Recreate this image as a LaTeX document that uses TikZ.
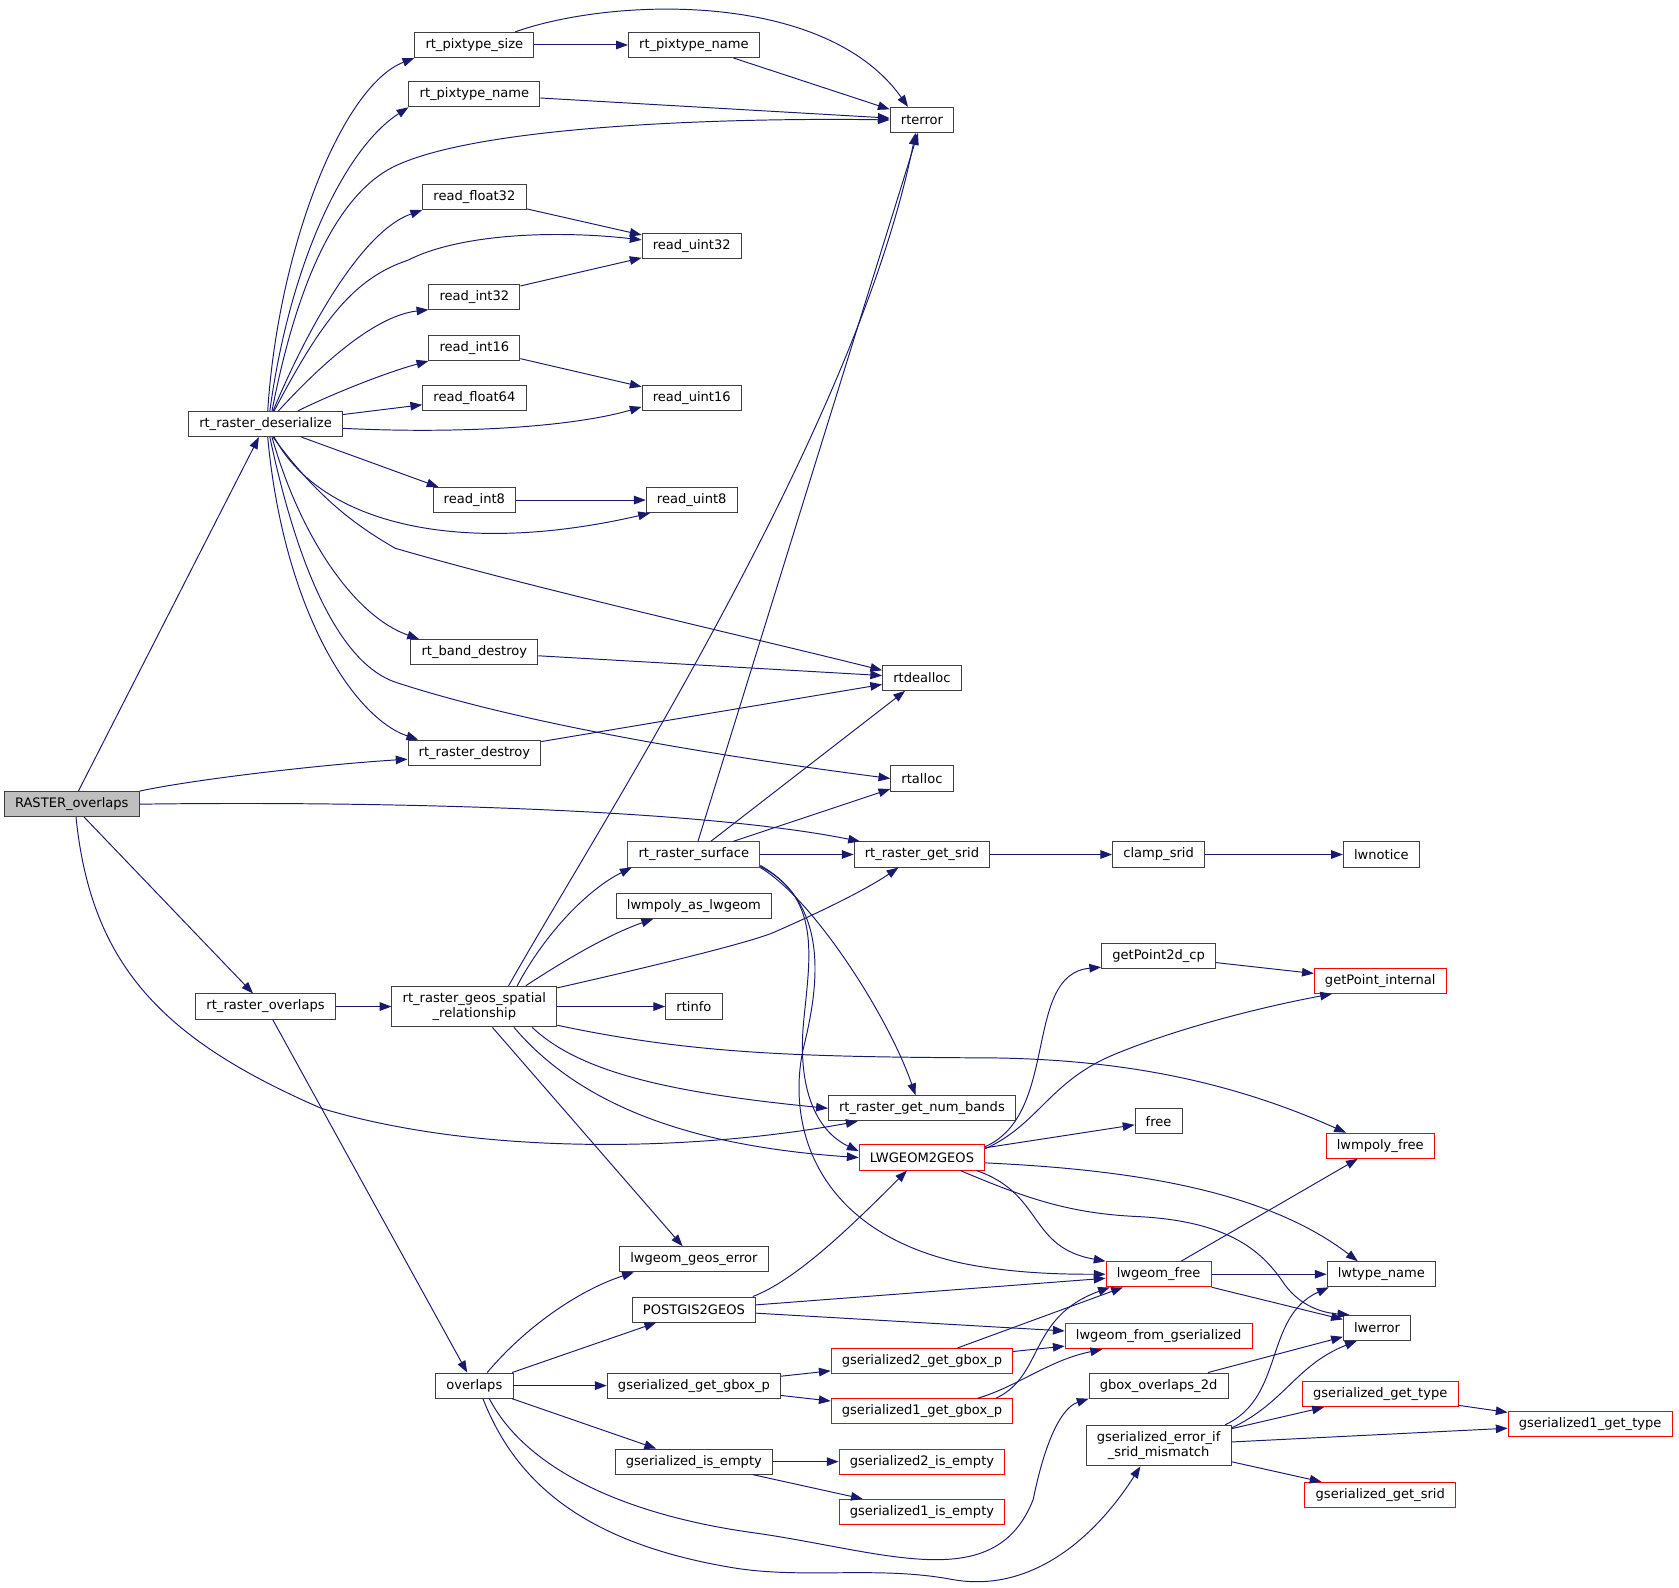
\documentclass[tikz,border=0pt]{standalone}
\usepackage{fontspec}
\setmainfont{DejaVu Sans}
\usepackage{tikz}
\usetikzlibrary{arrows.meta}
\definecolor{midblue}{HTML}{191970}
\definecolor{boxline}{HTML}{404040}

\begin{document}
\begin{tikzpicture}[x=1pt,y=-1pt,
main/.style = {draw=boxline, fill=white, line width=0.9pt, inner xsep=10pt, inner ysep=0pt, minimum height=23.5pt, font=\fontsize{12.2}{14.6}\selectfont},
hot/.style = {main, draw=red},
tall/.style = {main, align=center, minimum height=38pt},
link/.style = {draw=midblue, line width=0.9pt, -{Triangle[length=11pt,width=8pt]}}]
\useasboundingbox (0,0) rectangle (1568,1483);
\fill[white] (0,0) rectangle (1568,1483);
\node[main] (1) at (67,751) [fill=black!25] {RASTER\_overlaps};
\node[main] (2) at (248,396) {rt\_raster\_deserialize};
\node[main] (3) at (443,42) {rt\_pixtype\_size};
\node[main] (4) at (443,88) {rt\_pixtype\_name};
\node[main] (5) at (648,42) {rt\_pixtype\_name};
\node[main] (6) at (861,112) {rterror};
\node[main] (7) at (443,184) {read\_float32};
\node[main] (8) at (646,230) {read\_uint32};
\node[main] (9) at (443,277) {read\_int32};
\node[main] (10) at (443,325) {read\_int16};
\node[main] (11) at (443,372) {read\_float64};
\node[main] (12) at (646,372) {read\_uint16};
\node[main] (13) at (443,467) {read\_int8};
\node[main] (14) at (646,467) {read\_uint8};
\node[main] (15) at (443,609) {rt\_band\_destroy};
\node[main] (16) at (861,633) {rtdealloc};
\node[main] (17) at (443,703) {rt\_raster\_destroy};
\node[main] (18) at (861,727) {rtalloc};
\node[hot] (19) at (648,798) {rt\_raster\_surface};
\node[main] (20) at (861,798) {rt\_raster\_get\_srid};
\node[main] (21) at (1082,798) {clamp\_srid};
\node[main] (22) at (1290,798) {lwnotice};
\node[main] (23) at (648,846) {lwmpoly\_as\_lwgeom};
\node[main] (24) at (248,940) {rt\_raster\_overlaps};
\node[tall] (25) at (443,940) {rt\_raster\_geos\_spatial\\\_relationship};
\node[main] (26) at (648,940) {rtinfo};
\node[main] (27) at (1082,893) {getPoint2d\_cp};
\node[hot] (28) at (1289,916) {getPoint\_internal};
\node[main] (29) at (861,1035) {rt\_raster\_get\_num\_bands};
\node[main] (30) at (1082,1047) {free};
\node[hot] (31) at (861,1081) {LWGEOM2GEOS};
\node[hot] (32) at (1289,1070) {lwmpoly\_free};
\node[main] (33) at (648,1176) {lwgeom\_geos\_error};
\node[hot] (34) at (1082,1190) {lwgeom\_free};
\node[main] (35) at (1290,1190) {lwtype\_name};
\node[main] (36) at (648,1223) {POSTGIS2GEOS};
\node[hot] (37) at (1082,1248) {lwgeom\_from\_gserialized};
\node[main] (38) at (1286,1240) {lwerror};
\node[main] (39) at (443,1294) {overlaps};
\node[main] (40) at (648,1294) {gserialized\_get\_gbox\_p};
\node[hot] (41) at (861,1271) {gserialized2\_get\_gbox\_p};
\node[main] (42) at (1082,1294) {gbox\_overlaps\_2d};
\node[hot] (43) at (861,1318) {gserialized1\_get\_gbox\_p};
\node[hot] (44) at (1289,1302) {gserialized\_get\_type};
\node[hot] (45) at (1485,1330) {gserialized1\_get\_type};
\node[tall] (46) at (1082,1350) {gserialized\_error\_if\\\_srid\_mismatch};
\node[main] (47) at (648,1365) {gserialized\_is\_empty};
\node[hot] (48) at (861,1365) {gserialized2\_is\_empty};
\node[hot] (49) at (861,1412) {gserialized1\_is\_empty};
\node[hot] (50) at (1289,1396) {gserialized\_get\_srid};
% RASTER_overlaps
\draw[link] (1) -- (2);
\draw[link] (1.north east) .. controls (180,728) and (300,714) .. ([yshift=-6pt]17.west);
\draw[link] (1.east) .. controls (350,748) and (650,755) .. ([xshift=6pt]20.north west);
\draw[link] (1) -- (24);
\draw[link] ([xshift=4pt]1.south) .. controls (85,900) and (150,970) .. (300,1035) .. controls (450,1080) and (650,1075) .. ([xshift=-60pt]29.south);
% rt_raster_deserialize
\draw[link] ([xshift=2pt]2.north) .. controls (260,230) and (320,80) .. (3.south west);
\draw[link] ([xshift=4pt]2.north) .. controls (270,250) and (320,140) .. (4.south west);
\draw[link] ([xshift=6pt]2.north) .. controls (280,250) and (320,180) .. (367,156) .. controls (450,115) and (700,110) .. (6.west);
\draw[link] ([xshift=7pt]2.north) .. controls (290,300) and (340,215) .. (7.south west);
\draw[link] ([xshift=8pt]2.north) .. controls (300,300) and (330,260) .. (381,243) .. controls (430,218) and (520,215) .. ([yshift=6pt]8.west);
\draw[link] ([xshift=12pt]2.north) .. controls (300,340) and (350,295) .. (9.south west);
\draw[link] ([xshift=30pt]2.north) .. controls (310,368) and (360,348) .. (10.south west);
\draw[link] (2) -- (11);
\draw[link] ([yshift=-4pt]2.east) .. controls (420,405) and (530,400) .. ([yshift=-8pt]12.west);
\draw[link] (2) -- (13);
\draw[link] ([xshift=8pt]2.south) .. controls (300,490) and (430,520) .. ([xshift=4pt]14.south west);
\draw[link] ([xshift=7pt]2.south) .. controls (300,470) and (340,495) .. (369,512) .. controls (500,550) and (700,595) .. ([yshift=7pt]16.west);
\draw[link] ([xshift=6pt]2.south) .. controls (280,500) and (330,575) .. ([xshift=8pt]15.north west);
\draw[link] ([xshift=4pt]2.south) .. controls (280,540) and (320,620) .. (369,637) .. controls (500,680) and (700,710) .. (18.west);
\draw[link] ([xshift=2pt]2.south) .. controls (265,570) and (330,670) .. ([xshift=10pt]17.north west);
\draw[link] (3) -- (5);
\draw[link] ([xshift=-18pt]3.north east) .. controls (570,-2) and (770,-10) .. ([xshift=-13pt]6.north);
\draw[link] (4) -- (6);
\draw[link] (5) -- (6);
\draw[link] (7) -- (8);
\draw[link] (9) -- (8);
\draw[link] (10) -- (12);
\draw[link] (13) -- (14);
\draw[link] (15) -- (16);
\draw[link] (17) -- (16);
% rt_raster_surface
\draw[link] (19) -- (6);
\draw[link] (19) -- (16);
\draw[link] (19) -- (18);
\draw[link] (19) -- (20);
\draw[link] (19.south east) .. controls (760,840) and (830,950) .. ([xshift=-6pt]29.north);
\draw[link] ([yshift=1pt]19.south east) .. controls (770,840) and (755,900) .. (750,960) .. controls (745,1030) and (770,1060) .. ([yshift=6pt]31.west);
\draw[link] ([yshift=2pt]19.south east) .. controls (775,845) and (765,920) .. (750,980) .. controls (735,1050) and (760,1150) .. (900,1180) .. controls (950,1190) and (1000,1190) .. (34.west);
% rt_raster_geos_spatial_relationship
\draw[link] ([xshift=32pt]25.north) .. controls (560,770) and (800,400) .. ([xshift=-6pt]6.south);
\draw[link] ([xshift=40pt]25.north) .. controls (510,870) and (550,830) .. ([xshift=4pt]19.south west);
\draw[link] ([xshift=48pt]25.north) .. controls (530,895) and (570,872) .. ([xshift=-38pt]23.south);
\draw[link] ([yshift=-2pt]25.north east) .. controls (620,900) and (700,880) .. (722,871) .. controls (770,850) and (810,830) .. ([xshift=-22pt]20.south);
\draw[link] (25) -- (26);
\draw[link] ([yshift=2pt]25.south east) .. controls (650,985) and (750,987) .. (930,988) .. controls (1050,990) and (1150,1010) .. ([xshift=-32pt]32.north);
\draw[link] ([xshift=54pt]25.south) .. controls (540,1000) and (620,1020) .. (29.west);
\draw[link] ([xshift=37pt]25.south) .. controls (540,1030) and (640,1070) .. (31.west);
\draw[link] (25) -- (33);
\draw[link] (24) -- (25);
\draw[link] (24) -- (39);
% overlaps
\draw[link] ([xshift=12pt]39.north) .. controls (490,1240) and (540,1205) .. ([xshift=-56pt]33.south);
\draw[link] (39) -- (36);
\draw[link] (39) -- (40);
\draw[link] (39) -- (47);
\draw[link] ([xshift=14pt]39.south) .. controls (490,1370) and (580,1415) .. (708,1432) .. controls (830,1450) and (930,1490) .. (965,1400) .. controls (975,1350) and (990,1315) .. (42.south west);
\draw[link] ([xshift=8pt]39.south) .. controls (480,1380) and (540,1440) .. (684,1464) .. controls (750,1475) and (820,1462) .. (889,1475) .. controls (960,1488) and (1020,1440) .. ([xshift=-17pt]46.south);
\draw[link] ([xshift=55pt]36.north) .. controls (745,1195) and (800,1140) .. ([xshift=-14pt]31.south);
\draw[link] (36) -- (34);
\draw[link] (36) -- (37);
\draw[link] (40) -- (41);
\draw[link] (40) -- (43);
\draw[link] (41) -- (34);
\draw[link] (41) -- (37);
\draw[link] ([xshift=69pt]43.north) .. controls (975,1285) and (960,1230) .. ([xshift=4pt]34.south west);
\draw[link] ([xshift=52pt]43.north) .. controls (950,1295) and (980,1270) .. ([xshift=35pt]37.south west);
\draw[link] (47) -- (48);
\draw[link] (47) -- (49);
% LWGEOM2GEOS
\draw[link] ([yshift=-2pt]31.north east) .. controls (990,1040) and (955,910) .. ([yshift=2pt]27.south west);
\draw[link] ([yshift=-4pt]31.north east) .. controls (970,1050) and (980,1010) .. (1040,985) .. controls (1100,960) and (1180,940) .. ([xshift=17pt]28.south west);
\draw[link] (31) -- (30);
\draw[link] ([yshift=-5pt]31.east) .. controls (1050,1092) and (1180,1110) .. ([xshift=-22pt]35.north);
\draw[link] ([xshift=51pt]31.south) .. controls (975,1115) and (960,1165) .. (34.north west);
\draw[link] ([xshift=36pt]31.south) .. controls (960,1120) and (1000,1133) .. (1060,1136) .. controls (1150,1140) and (1180,1170) .. (1200,1200) .. controls (1215,1220) and (1235,1226) .. ([xshift=6pt]38.north west);
\draw[link] (27) -- (28);
\draw[link] (20) -- (21);
\draw[link] (21) -- (22);
\draw[link] (34) -- (32);
\draw[link] (34) -- (35);
\draw[link] (34) -- (38);
\draw[link] (42) -- (38);
% gserialized_error_if_srid_mismatch
\draw[link] ([xshift=-6pt]46.north east) .. controls (1200,1305) and (1180,1230) .. ([xshift=2pt]35.south west);
\draw[link] ([yshift=-3pt]46.north east) .. controls (1200,1310) and (1210,1275) .. ([xshift=13pt]38.south west);
\draw[link] (46) -- (44);
\draw[link] (46) -- (45);
\draw[link] (46) -- (50);
\draw[link] (44) -- (45);
\end{tikzpicture}
\end{document}
